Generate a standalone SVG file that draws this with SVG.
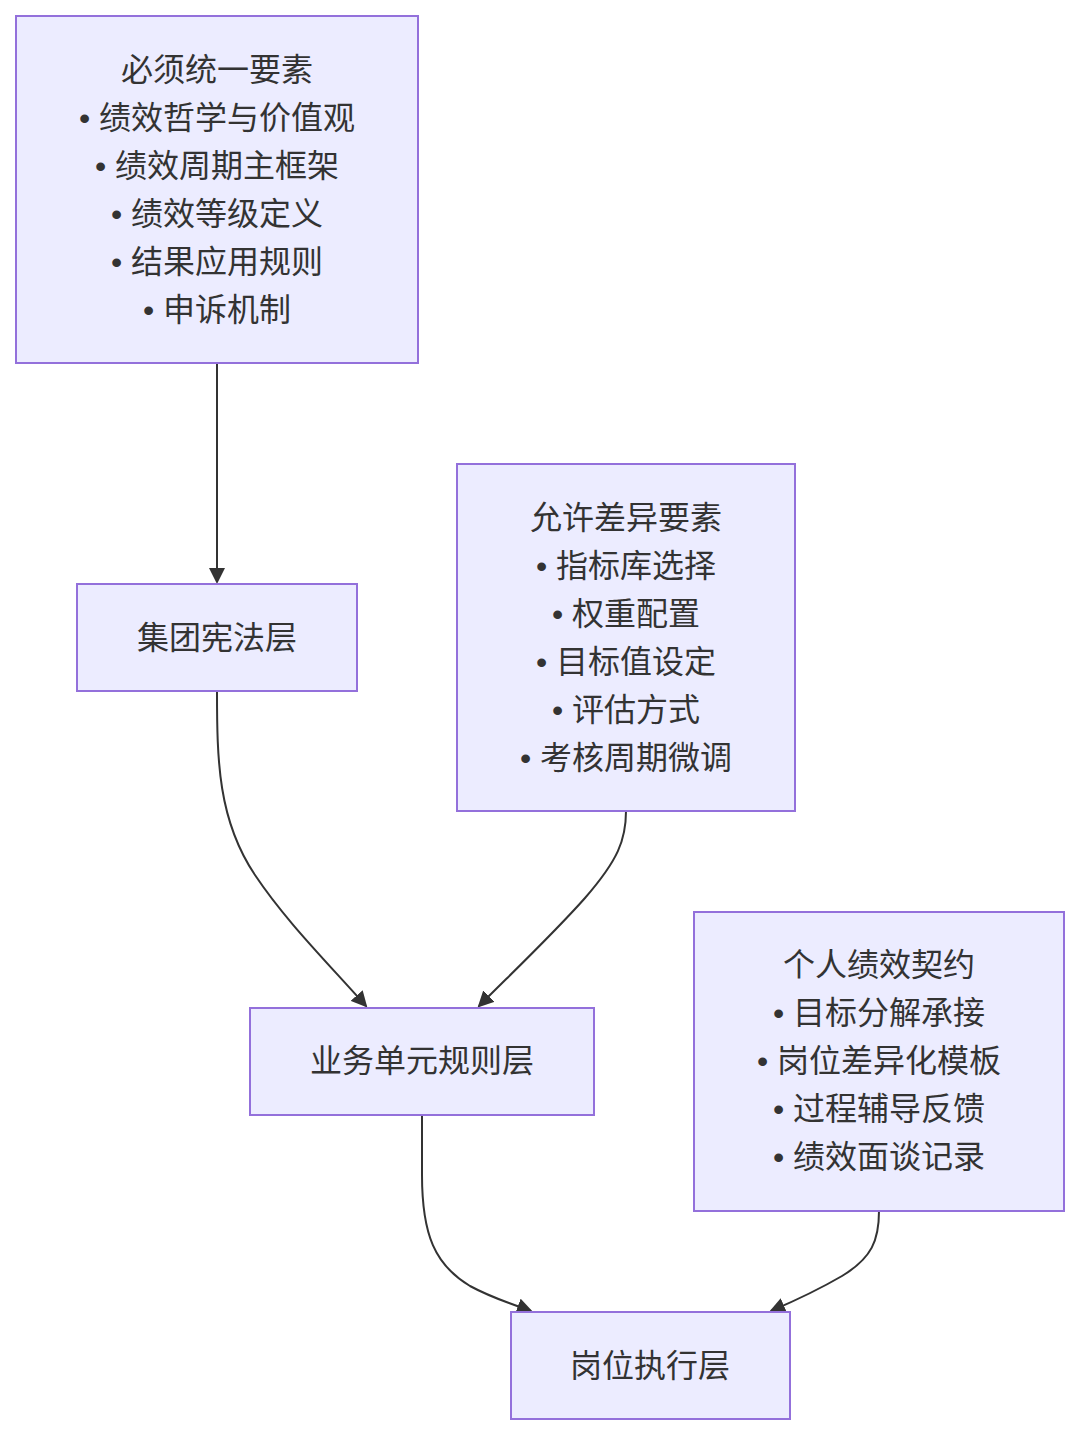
<svg xmlns="http://www.w3.org/2000/svg" width="1080" height="1436" viewBox="0 0 1080 1436">
<style>
.node rect{fill:#ECECFF;stroke:#9370DB;stroke-width:2}
.node text{font-family:"Liberation Sans","Noto Sans CJK SC",sans-serif;font-size:32px;fill:#333;text-anchor:middle;dominant-baseline:central}
.edges path{fill:none;stroke:#333;stroke-width:2}
</style>
<defs>
<marker id="arrow" markerUnits="userSpaceOnUse" markerWidth="16" markerHeight="16" refX="14" refY="8" orient="auto">
<path d="M0,0 L16,8 L0,16 z" fill="#333"/>
</marker>
</defs>
<rect width="1080" height="1436" fill="#fff"/>
<g class="edges">
<path d="M217,363 L217,582" marker-end="url(#arrow)"/>
<path d="M217,691 C217,760 218,820 255,875 C285,920 325,960 366,1006" marker-end="url(#arrow)"/>
<path d="M626,811 C626,840 618,860 585,898 C555,932 515,970 479,1006" marker-end="url(#arrow)"/>
<path d="M422,1115 L422,1175 C422,1235 435,1265 470,1286 C492,1298 512,1304 531,1311" marker-end="url(#arrow)"/>
<path d="M879,1211 C879,1240 872,1258 842,1276 C818,1290 792,1302 771,1311" marker-end="url(#arrow)"/>
</g>
<g id="n1" class="node">
<rect x="16" y="16" width="402" height="347"/>
<text x="217" y="70">必须统一要素</text>
<text x="217" y="118">• 绩效哲学与价值观</text>
<text x="217" y="166">• 绩效周期主框架</text>
<text x="217" y="214">• 绩效等级定义</text>
<text x="217" y="262">• 结果应用规则</text>
<text x="217" y="310">• 申诉机制</text>
</g>
<g id="n2" class="node">
<rect x="77" y="584" width="280" height="107"/>
<text x="217" y="638">集团宪法层</text>
</g>
<g id="n3" class="node">
<rect x="457" y="464" width="338" height="347"/>
<text x="626" y="518">允许差异要素</text>
<text x="626" y="566">• 指标库选择</text>
<text x="626" y="614">• 权重配置</text>
<text x="626" y="662">• 目标值设定</text>
<text x="626" y="710">• 评估方式</text>
<text x="626" y="758">• 考核周期微调</text>
</g>
<g id="n4" class="node">
<rect x="250" y="1008" width="344" height="107"/>
<text x="422" y="1061">业务单元规则层</text>
</g>
<g id="n5" class="node">
<rect x="694" y="912" width="370" height="299"/>
<text x="879" y="965">个人绩效契约</text>
<text x="879" y="1013">• 目标分解承接</text>
<text x="879" y="1061">• 岗位差异化模板</text>
<text x="879" y="1109">• 过程辅导反馈</text>
<text x="879" y="1157">• 绩效面谈记录</text>
</g>
<g id="n6" class="node">
<rect x="511" y="1312" width="279" height="107"/>
<text x="650" y="1366">岗位执行层</text>
</g>
</svg>
